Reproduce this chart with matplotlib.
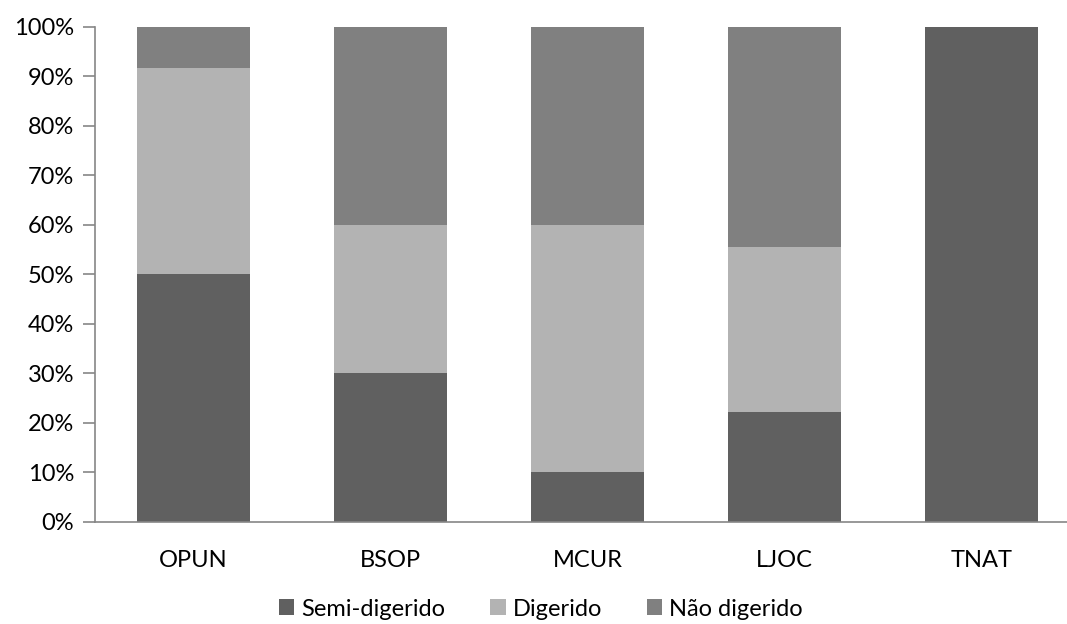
import matplotlib
matplotlib.use("Agg")
import matplotlib.pyplot as plt
from matplotlib.ticker import PercentFormatter

categories = ["OPUN", "BSOP", "MCUR", "LJOC", "TNAT"]
semi_digerido = [50.0, 30.0, 10.0, 22.2, 100.0]
digerido = [41.7, 30.0, 50.0, 33.3, 0.0]
nao_digerido = [8.3, 40.0, 40.0, 44.5, 0.0]

series = [
    ("Semi-digerido", semi_digerido, "#606060"),
    ("Digerido", digerido, "#b3b3b3"),
    ("Não digerido", nao_digerido, "#808080"),
]

plt.rcParams["font.family"] = ["Lato", "DejaVu Sans"]

W, H = 1067, 624
fig = plt.figure(figsize=(W / 100, H / 100), dpi=100)
left, right, bottom, top = 95, 1080, 102, 597.5
ax = fig.add_axes([left / W, bottom / H, (right - left) / W, (top - bottom) / H])

x = range(len(categories))
base = [0.0] * len(categories)
handles = []
for name, vals, color in series:
    b = ax.bar(x, vals, width=0.57, bottom=base, color=color, label=name,
               edgecolor="none", zorder=2)
    handles.append(b)
    base = [bb + v for bb, v in zip(base, vals)]

ax.set_xlim(-0.5, len(categories) - 0.5)
ax.set_ylim(0, 100)
ax.set_yticks(range(0, 101, 10))
ax.yaxis.set_major_formatter(PercentFormatter(decimals=0))
ax.set_xticks(list(x))
ax.set_xticklabels(categories)

for s in ["top", "right"]:
    ax.spines[s].set_visible(False)
for s in ["left", "bottom"]:
    ax.spines[s].set_color("#868686")
    ax.spines[s].set_linewidth(1.2)

fs = 17
ax.tick_params(axis="y", length=9, width=1.2, color="#868686", labelsize=fs,
               pad=6, labelcolor="black")
ax.tick_params(axis="x", length=0, labelsize=fs, pad=20, labelcolor="black")

fig.legend(handles=handles, loc="center", bbox_to_anchor=(541 / W, 1 - 609 / H),
           ncol=3, frameon=False, fontsize=fs, handlelength=0.65,
           handleheight=0.65, handletextpad=0.3, columnspacing=1.9)

fig.savefig("out.png", dpi=100)
